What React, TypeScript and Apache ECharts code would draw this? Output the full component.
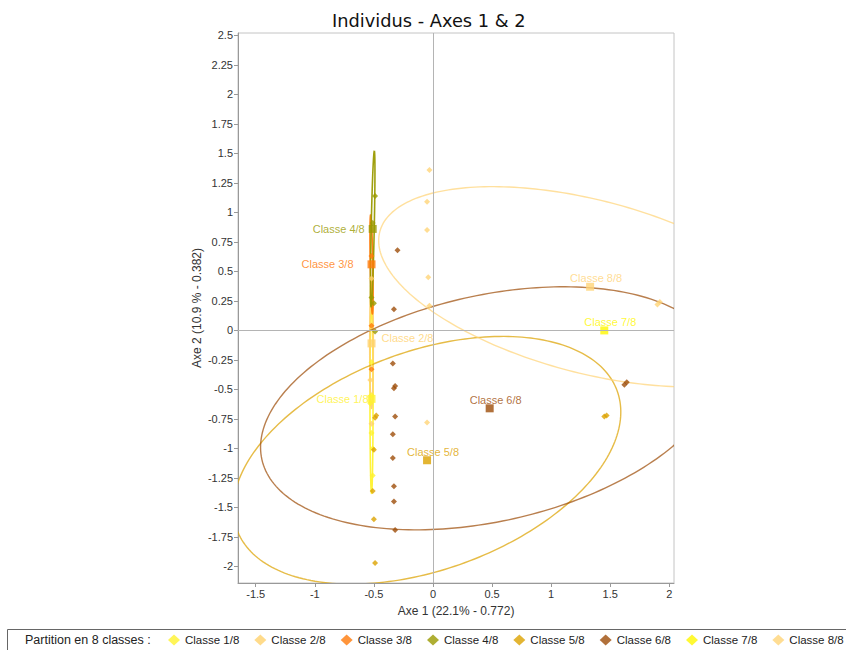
import React, { useEffect, useRef } from 'react';
import * as echarts from 'echarts';

const classNames = ['Classe 1/8', 'Classe 2/8', 'Classe 3/8', 'Classe 4/8', 'Classe 5/8', 'Classe 6/8', 'Classe 7/8', 'Classe 8/8'];
const classColors = ['#FFF22E', '#FFD26E', '#FF7A0A', '#9A9A00', '#DCA200', '#9E4E0A', '#FFF700', '#FFD478'];

// class centres
const centerX = [-0.52, -0.52, -0.52, -0.51, -0.05, 0.48, 1.45, 1.33];
const centerY = [-0.58, -0.11, 0.56, 0.86, -1.1, -0.66, 0.0, 0.37];
const labelSide = ['left', 'right', 'left', 'left', 'top', 'top', 'top', 'top'];
const labelGap = [-1, 6, 14, 4, 0, 0, 0, 0];

// confidence ellipses (semi-axes, rotation in degrees), null = none drawn
const ellipseA = [0.8, 0.55, 0.42, 0.66, 1.713, 1.976, null, 1.84];
const ellipseB = [0.013, 0.015, 0.011, 0.013, 0.925, 0.957, null, 0.732];
const ellipseAngle = [90, 90, 91, 88.8, 20.1, 12.7, null, -14.7];

// individuals per class
const class1X = [-0.52, -0.53, -0.52, -0.52, -0.51, -0.51];
const class1Y = [-0.27, -0.62, -0.55, -0.87, -1.0, -1.23];
const class2X = [-0.52, -0.53, -0.52];
const class2Y = [0.44, -0.42, -0.79];
const class3X = [-0.52, -0.52, -0.52];
const class3Y = [0.63, 0.04, -0.33];
const class4X = [-0.49, -0.51, -0.52, -0.5, -0.49];
const class4Y = [1.14, 0.91, 0.28, 0.23, -0.01];
const class5X = [-0.49, -0.48, -0.5, -0.51, -0.5, -0.49, 1.45, 1.47];
const class5Y = [-0.74, -0.72, -1.01, -1.36, -1.6, -1.97, -0.73, -0.72];
const class6X = [-0.3, -0.33, -0.34, -0.33, -0.32, -0.32, -0.34, -0.34, -0.33, -0.33, -0.32, 1.62, 1.64];
const class6Y = [0.68, 0.18, -0.28, -0.49, -0.47, -0.73, -0.88, -1.08, -1.32, -1.45, -1.69, -0.46, -0.44];
const class7X: number[] = [];
const class7Y: number[] = [];
const class8X = [-0.03, -0.05, -0.05, -0.04, -0.03, -0.05, 1.9, 1.92];
const class8Y = [1.36, 1.09, 0.85, 0.45, 0.21, -0.78, 0.22, 0.24];

const pointsX = [class1X, class2X, class3X, class4X, class5X, class6X, class7X, class8X];
const pointsY = [class1Y, class2Y, class3Y, class4Y, class5Y, class6Y, class7Y, class8Y];

const xRange = [-1.65, 2.04];
const yRange = [-2.14, 2.52];
const xTickStep = 0.5;
const yTickStep = 0.25;

const FONT = '"Liberation Sans", Arial, sans-serif';

export default function App() {
  const ref = useRef<HTMLDivElement>(null);
  useEffect(() => {
    if (!ref.current) return;
    const chart = echarts.init(ref.current, null, { renderer: 'svg' });

    const ellipseData: any[] = [];
    for (let i = 0; i < 8; i++) {
      if (ellipseA[i] == null) continue;
      ellipseData.push([centerX[i], centerY[i], ellipseA[i], ellipseB[i], ellipseAngle[i], i]);
    }

    const pointSeries = classNames.map((name, i) => ({
      name,
      type: 'scatter',
      symbol: 'diamond',
      symbolSize: 6,
      z: 3,
      itemStyle: { color: classColors[i] },
      data: pointsX[i].map((x, k) => [x, pointsY[i][k]]),
    }));

    const labelConf = (i: number) => {
      const side = labelSide[i];
      const base: any = { show: true, formatter: classNames[i], color: classColors[i], fontSize: 11, fontFamily: FONT };
      if (side === 'left') return { ...base, position: 'left', distance: labelGap[i] };
      if (side === 'right') return { ...base, position: 'right', distance: labelGap[i], offset: [0, -5] };
      return { ...base, position: 'top', distance: labelGap[i], offset: [6, 1] };
    };

    const option: any = {
      animation: false,
      textStyle: { fontFamily: FONT },
      title: {
        text: 'Individus - Axes 1 & 2',
        left: 327,
        top: 6,
        textStyle: { fontFamily: '"DejaVu Sans", Verdana, sans-serif', fontSize: 17.8, fontWeight: 'normal', color: '#111' },
      },
      grid: { left: 238, top: 33, width: 436, height: 550, show: true, borderColor: '#c4c4c4', borderWidth: 1, backgroundColor: '#fff' },
      xAxis: {
        type: 'value',
        min: xRange[0],
        max: xRange[1],
        minInterval: xTickStep,
        maxInterval: xTickStep,
        splitLine: { show: false },
        axisLine: { show: true, onZero: false, lineStyle: { color: '#999' } },
        axisTick: { show: true, length: 4, lineStyle: { color: '#999' } },
        axisLabel: { showMinLabel: false, showMaxLabel: false, fontSize: 11, color: '#333', margin: 5 },
        name: 'Axe 1 (22.1% - 0.772)',
        nameLocation: 'middle',
        nameMoveOverlap: false,
        nameGap: 22,
        nameTextStyle: { fontSize: 12, color: '#333' },
      },
      yAxis: {
        type: 'value',
        min: yRange[0],
        max: yRange[1],
        minInterval: yTickStep,
        maxInterval: yTickStep,
        splitLine: { show: false },
        axisLine: { show: true, onZero: false, lineStyle: { color: '#999' } },
        axisTick: { show: true, length: 4, lineStyle: { color: '#999' } },
        axisLabel: { showMinLabel: false, showMaxLabel: false, fontSize: 11, color: '#333', margin: 5 },
        name: 'Axe 2 (10.9 % - 0.382)',
        nameLocation: 'middle',
        nameMoveOverlap: false,
        nameGap: 35,
        nameTextStyle: { fontSize: 12, color: '#333' },
      },
      legend: {
        data: classNames.map((n) => ({ name: n, icon: 'diamond' })),
        left: 163,
        top: 629,
        width: 760,
        itemWidth: 12,
        itemHeight: 11,
        itemGap: 15,
        selectedMode: false,
        textStyle: { fontSize: 11.5, color: '#222', fontFamily: FONT },
      },
      graphic: [
        { type: 'rect', shape: { x: 7.5, y: 629.5, width: 900, height: 40 }, style: { fill: 'none', stroke: '#666', lineWidth: 1 }, z: 10 },
        { type: 'text', left: 25, top: 633, style: { text: 'Partition en 8 classes :', fontSize: 12.5, fontFamily: FONT, fill: '#222' }, z: 10 },
      ],
      series: [
        {
          name: 'axes0',
          type: 'scatter',
          data: [],
          z: 1,
          markLine: {
            silent: true,
            symbol: 'none',
            label: { show: false },
            lineStyle: { color: '#b4b4b4', width: 1, type: 'solid' },
            data: [{ xAxis: 0 }, { yAxis: 0 }],
          },
        },
        {
          name: 'ellipses',
          type: 'custom',
          z: 2,
          encode: { x: 0, y: 1 },
          data: ellipseData,
          renderItem: (params: any, api: any) => {
            const cx = api.value(0), cy = api.value(1), a = api.value(2), b = api.value(3);
            const ang = (api.value(4) * Math.PI) / 180;
            const idx = api.value(5);
            const pts: number[][] = [];
            const N = 240;
            for (let k = 0; k <= N; k++) {
              const t = (k / N) * 2 * Math.PI;
              const ex = a * Math.cos(t), ey = b * Math.sin(t);
              const x = cx + ex * Math.cos(ang) - ey * Math.sin(ang);
              const y = cy + ex * Math.sin(ang) + ey * Math.cos(ang);
              pts.push(api.coord([x, y]));
            }
            const cs = params.coordSys;
            const thin = b < 0.1;
            return {
              type: 'group',
              clipPath: { type: 'rect', shape: { x: cs.x, y: cs.y, width: cs.width, height: cs.height } },
              children: [
                {
                  type: 'polyline',
                  shape: { points: pts },
                  style: { stroke: classColors[idx], fill: 'none', lineWidth: thin ? 1.6 : 1.4, opacity: thin ? 0.95 : 0.72 },
                },
              ],
            };
          },
        },
        ...pointSeries,
        {
          name: 'centres',
          type: 'scatter',
          symbol: 'rect',
          symbolSize: 8,
          z: 4,
          data: centerX.map((x, i) => ({
            value: [x, centerY[i]],
            itemStyle: { color: classColors[i] },
            label: labelConf(i),
          })),
        },
      ],
    };
    chart.setOption(option);
    return () => chart.dispose();
  }, []);
  return <div ref={ref} style={{ position: 'fixed', left: 0, top: 0, width: 846, height: 650, background: '#fff' }} />;
}
